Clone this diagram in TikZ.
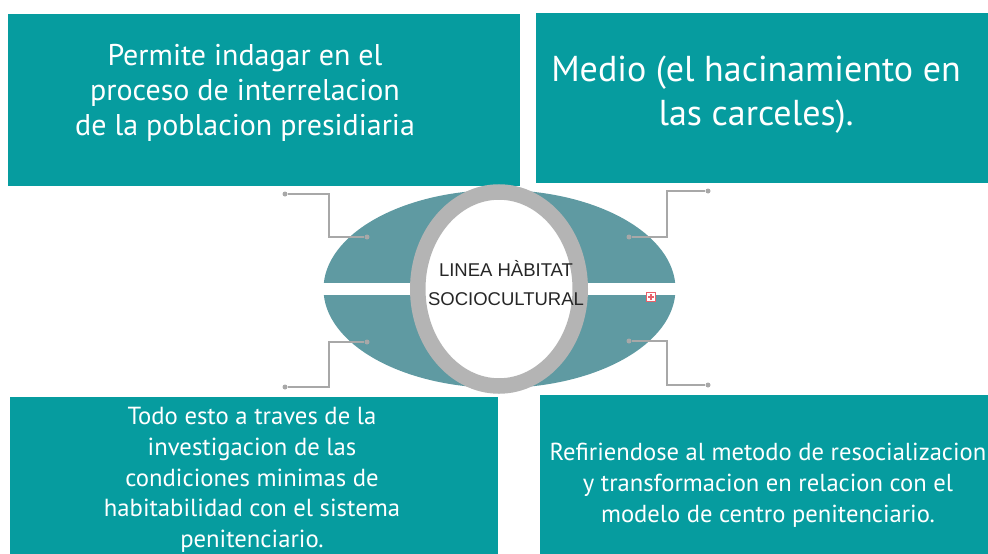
\documentclass[tikz,border=0pt]{standalone}
\usepackage{fontspec}
\usetikzlibrary{shapes.geometric}
\setmainfont{PT Sans}
\newfontfamily\hubfont{Liberation Sans}
\definecolor{boxteal}{HTML}{069C9F}
\definecolor{eyeteal}{HTML}{5F9AA2}
\definecolor{ringgray}{HTML}{B4B4B4}
\definecolor{linkgray}{HTML}{A8A8A8}
\definecolor{plusred}{HTML}{E8606A}

\begin{document}
\begin{tikzpicture}[x=1pt,y=-1pt]
      \useasboundingbox (0,0) rectangle (988,554);

      % teal boxes
      \begin{scope}[every node/.style={fill=boxteal, inner sep=0pt}]
        \node[minimum width=512pt, minimum height=172pt] (1) at (264,100) {};
        \node[minimum width=459pt, minimum height=170pt] (2) at (765.5,98) {};
        \node[minimum width=488pt, minimum height=163pt] (3) at (253.5,478.5) {};
        \node[minimum width=455pt, minimum height=165pt] (4) at (767.5,477.5) {};
      \end{scope}

      \begin{scope}[every node/.style={text=white, align=center, inner sep=0pt}]
        \node[font=\fontsize{30}{35}\selectfont] (t1) at (245,93)
          {Permite indagar en el\\proceso de interrelacion\\de la poblacion presidiaria};
        \node[font=\fontsize{36}{44}\selectfont] (t2) at (756,95)
          {Medio (el hacinamiento en\\las carceles).};
        \node[font=\fontsize{24.7}{30.7}\selectfont] (t3) at (252,480)
          {Todo esto a traves de la\\investigacion de las\\condiciones minimas de\\habitabilidad con el sistema\\penitenciario.};
        \node[font=\fontsize{24.6}{31}\selectfont] (t4) at (768,485)
          {Refiriendose al metodo de resocializacion\\y transformacion en relacion con el\\modelo de centro penitenciario.};
      \end{scope}

      % central eye
      \fill[eyeteal] (499.5,289) ellipse [x radius=176, y radius=99];
      \fill[white] (320,283) rectangle (680,295);
      \node[ellipse, draw=ringgray, fill=white, line width=15.5pt,
            minimum width=162.5pt, minimum height=194pt, inner sep=0pt] (0) at (499,289) {};
      \node[font=\hubfont\fontsize{18.5}{29}\selectfont, text=black!85, align=center] (c) at (506,283)
        {LINEA HÀBITAT\\SOCIOCULTURAL};

      % connectors
      \begin{scope}[every node/.style={circle, fill=linkgray, inner sep=0pt, minimum size=5pt}]
        \node (a1) at (285,194) {};
        \node (b1) at (367,237) {};
        \node (a2) at (285,387) {};
        \node (b2) at (367,342) {};
        \node (a3) at (708,191) {};
        \node (b3) at (629,237) {};
        \node (a4) at (708,385) {};
        \node (b4) at (629,341) {};
      \end{scope}
      \coordinate (k1) at (329,237);
      \coordinate (k2) at (329,342);
      \coordinate (k3) at (667,237);
      \coordinate (k4) at (667,341);

      \begin{scope}[linkgray, line width=1.4pt]
        \draw (a1) -| (k1) -- (b1);
        \draw (a2) -| (k2) -- (b2);
        \draw (a3) -| (k3) -- (b3);
        \draw (a4) -| (k4) -- (b4);
      \end{scope}

      % expand marker
      \node[draw=plusred, fill=white, line width=1pt, minimum size=9pt, inner sep=0pt] (p) at (651,297) {};
      \draw[plusred, line width=1.2pt] ([xshift=-3pt]p.center) -- ([xshift=3pt]p.center);
      \draw[plusred, line width=1.2pt] ([yshift=-3pt]p.center) -- ([yshift=3pt]p.center);

    \end{tikzpicture}
\end{document}
